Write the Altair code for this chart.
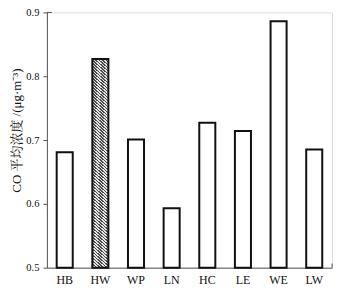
import altair as alt
import pandas as pd

sites = ["HB", "HW", "WP", "LN", "HC", "LE", "WE", "LW"]
co_mean = [0.681, 0.827, 0.701, 0.593, 0.727, 0.714, 0.886, 0.685]
hatched = ["HW"]

df = pd.DataFrame({"site": sites, "co": co_mean})

W, H = 286, 256

# diagonal hatch made from a striped linear gradient
stops = []
n = 84
for i in range(n):
    a = i / n
    b = (i + 0.5) / n
    c = (i + 1) / n
    stops += [
        alt.GradientStop(color="#4a4a4a", offset=a),
        alt.GradientStop(color="#4a4a4a", offset=b),
        alt.GradientStop(color="#e4e4e4", offset=b),
        alt.GradientStop(color="#e4e4e4", offset=c),
    ]
hatch = alt.LinearGradient(gradient="linear", stops=stops, x1=0, y1=1.1, x2=0.08, y2=-0.1)

serif = "Liberation Serif, 'Noto Serif CJK SC', 'Noto Sans CJK SC'"

x = alt.X(
    "site:N",
    sort=sites,
    scale=alt.Scale(paddingInner=0.55, paddingOuter=0.275),
    axis=alt.Axis(title=None, ticks=False, labelAngle=0, labelPadding=7,
                  labelFontSize=12, labelFont=serif, labelColor="#111",
                  domainColor="#555", domainWidth=1),
)
y = alt.Y(
    "co:Q",
    scale=alt.Scale(domain=[0.5, 0.9], zero=False, nice=False),
    axis=alt.Axis(title="CO 平均浓度 /(μg·m⁻³)", values=[0.5, 0.6, 0.7, 0.8, 0.9],
                  format=".1f", tickSize=4, tickColor="#555", labelPadding=4,
                  labelFontSize=10.5, labelFont=serif, labelColor="#111",
                  titleFont=serif, titleFontSize=13, titleFontWeight="normal",
                  titleColor="#111", titlePadding=2, titleY=118, grid=False,
                  domainColor="#555", domainWidth=1),
)
y2 = alt.datum(0.5)

base = alt.Chart(df)
plain = base.transform_filter(
    ~alt.FieldOneOfPredicate(field="site", oneOf=hatched)
).mark_bar(fill="white", stroke="#111", strokeWidth=2).encode(x=x, y=y, y2=y2)
hw = base.transform_filter(
    alt.FieldOneOfPredicate(field="site", oneOf=hatched)
).mark_bar(fill=hatch, stroke="#111", strokeWidth=2).encode(x=x, y=y, y2=y2)

top_tick = alt.Chart(df).transform_filter(alt.datum.site == "HB").mark_rule(
    color="#555", strokeWidth=1
).encode(y=alt.datum(0.9), x=alt.value(0), x2=alt.value(5))
end_tick = alt.Chart(df).transform_filter(alt.datum.site == "HB").mark_rule(
    color="#555", strokeWidth=1
).encode(x=alt.value(W), y=alt.datum(0.5), y2=alt.datum(0.5065))

chart = alt.layer(plain, hw, top_tick, end_tick).properties(
    width=W, height=H,
    autosize=alt.AutoSizeParams(type="none"),
    padding={"left": 39, "top": 4, "right": 18, "bottom": 30},
).configure_view(stroke=None).configure(background="white")

chart.save("out.html", embed_options={"renderer": "svg", "actions": False})
